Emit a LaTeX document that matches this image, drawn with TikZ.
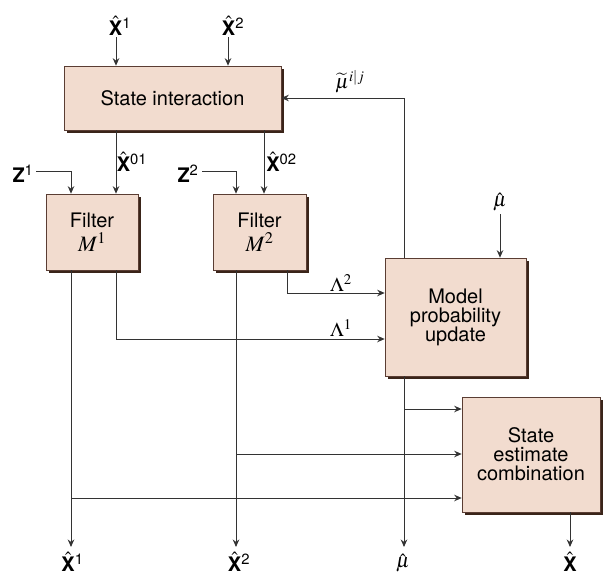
\documentclass[tikz,border=0pt]{standalone}
\usepackage{mathptmx}
\usepackage{fontspec}
\setmainfont{TeX Gyre Heros}
\usetikzlibrary{shadows,arrows.meta}
\definecolor{boxfill}{HTML}{F2DCCF}
\definecolor{boxline}{HTML}{5A3D33}
\definecolor{boxshadow}{HTML}{3A2419}
\definecolor{lineclr}{HTML}{333333}
\newcommand{\Xh}{$\hat{\mbox{\bfseries X}}$}
\tikzset{
  blk/.style={draw=boxline, fill=boxfill, line width=0.6pt,
    drop shadow={shadow xshift=3pt, shadow yshift=-3pt, opacity=1, fill=boxshadow},
    align=center, inner sep=0pt, font=\fontsize{20}{19}\selectfont},
  lbl/.style={inner sep=0pt, font=\fontsize{20}{20}\selectfont},
  con/.style={draw=lineclr, line width=0.9pt},
  arr/.style={con, -{Stealth[length=7.5pt,width=6.5pt]}},
}
\begin{document}
\begin{tikzpicture}[x=1pt,y=-1pt]
\useasboundingbox (0,0) rectangle (605,575);
% boxes
\node[blk, minimum width=217pt, minimum height=64pt] (si) at (172.5,98) {State interaction};
\node[blk, minimum width=92pt, minimum height=76pt] (f1) at (92,232) {Filter\\[4pt]\fontsize{22}{22}\selectfont$M^1$};
\node[blk, minimum width=93pt, minimum height=76pt] (f2) at (259.5,232) {Filter\\[4pt]\fontsize{22}{22}\selectfont$M^2$};
\node[blk, minimum width=141pt, minimum height=118pt] (mp) at (455.5,317) {Model\\probability\\update};
\node[blk, minimum width=138pt, minimum height=115pt] (sc) at (531,454.5) {State\\estimate\\combination};
% labels
\node[lbl] (tx1) at (120,26) {\Xh\textsuperscript{1}};
\node[lbl] (tx2) at (233,26) {\Xh\textsuperscript{2}};
\node[lbl] (x01) at (132,162) {\Xh\textsuperscript{01}};
\node[lbl] (x02) at (281.5,162) {\Xh\textsuperscript{02}};
\node[lbl] (z1) at (23,174) {\textbf{Z}\textsuperscript{1}};
\node[lbl] (z2) at (188,174) {\textbf{Z}\textsuperscript{2}};
\node[lbl] (mut) at (350,82) {$\widetilde{\mu}^{i|j}$};
\node[lbl] (muh) at (500,202) {$\hat{\mu}$};
\node[lbl] (lam2) at (341,283) {$\Lambda^2$};
\node[lbl] (lam1) at (341,328) {$\Lambda^1$};
\node[lbl] (bx1) at (72.5,562) {\Xh\textsuperscript{1}};
\node[lbl] (bx2) at (239,562) {\Xh\textsuperscript{2}};
\node[lbl] (bmu) at (403,563) {$\hat{\mu}$};
\node[lbl] (bx) at (570,562) {\Xh};
% coordinates
\coordinate (a1) at (116,37);
\coordinate (a2) at (228,37);
\coordinate (c01) at (116,0);
\coordinate (c02) at (264,0);
\coordinate (zz1) at (36,171);
\coordinate (zk1) at (71,171);
\coordinate (zz2) at (202,171);
\coordinate (zk2) at (236,171);
\coordinate (fb) at (404,98);
\coordinate (mu1) at (500,214);
\coordinate (l2) at (287,293);
\coordinate (l1) at (116,339);
\coordinate (o1) at (71,547);
\coordinate (o2) at (236,547);
\coordinate (om) at (404,547);
\coordinate (ox) at (570,547);
\coordinate (j1) at (404,409);
\coordinate (j2) at (236,454);
\coordinate (j3) at (71,498);
% connectors
\draw[arr] (a1) -- (a1 |- si.north);
\draw[arr] (a2) -- (a2 |- si.north);
\draw[arr] (si.south -| c01) -- (f1.north -| c01);
\draw[arr] (si.south -| c02) -- (f2.north -| c02);
\draw[arr] (zz1) -- (zk1) -- (f1.north -| zk1);
\draw[arr] (zz2) -- (zk2) -- (f2.north -| zk2);
\draw[arr] (mp.north -| fb) -- (fb) -- (si.east |- fb);
\draw[arr] (mu1) -- (mp.north -| mu1);
\draw[arr] (f2.south -| l2) -- (l2) -- (mp.west |- l2);
\draw[arr] (f1.south -| l1) -- (l1) -- (mp.west |- l1);
\draw[arr] (f1.south -| o1) -- (o1);
\draw[arr] (f2.south -| o2) -- (o2);
\draw[arr] (mp.south -| om) -- (om);
\draw[arr] (sc.south -| ox) -- (ox);
\draw[arr] (j1) -- (sc.west |- j1);
\draw[arr] (j2) -- (sc.west |- j2);
\draw[arr] (j3) -- (sc.west |- j3);
\end{tikzpicture}
\end{document}
